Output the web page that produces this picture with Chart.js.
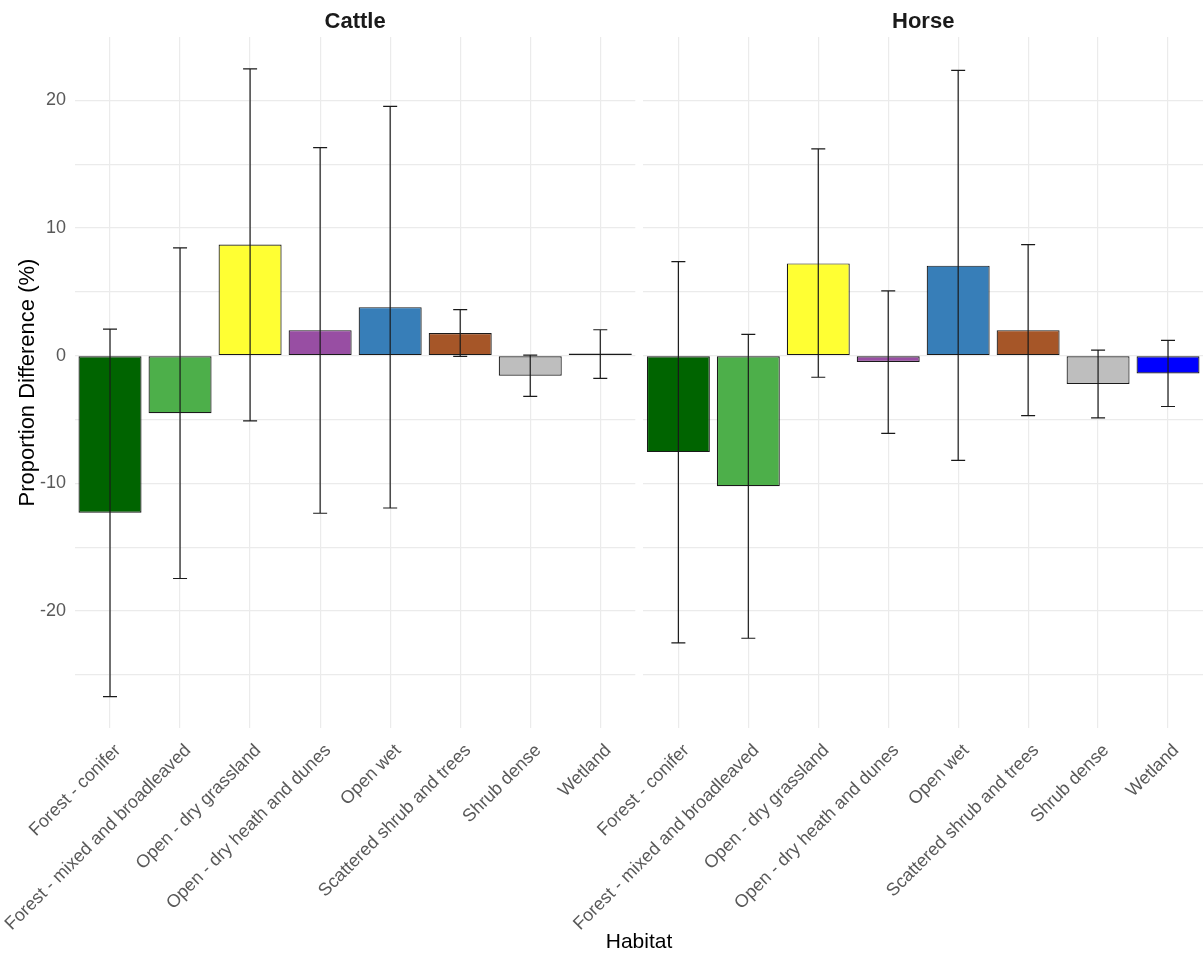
<!DOCTYPE html>
<html>
<head>
<meta charset="utf-8">
<script src="https://cdn.jsdelivr.net/npm/chart.js@4.4.1/dist/chart.umd.min.js"></script>
<style>
  body { margin: 0; background: #fff; }
  #wrap { position: relative; width: 1204px; height: 953px; }
  #wrap canvas { position: absolute; left: 0; top: 0; }
  #xtitle { position: absolute; left: 0; width: 1278px; top: 929px; text-align: center;
            font: 21px "Liberation Sans", Arial, sans-serif; color: #000; }
</style>
</head>
<body>
<div id="wrap">
  <canvas id="cattle" width="1204" height="953"></canvas>
  <canvas id="horse" width="1204" height="953"></canvas>
  <div id="xtitle">Habitat</div>
</div>
<script>
// Datos
const habitats = ['Forest - conifer', 'Forest - mixed and broadleaved', 'Open - dry grassland',
  'Open - dry heath and dunes', 'Open wet', 'Scattered shrub and trees', 'Shrub dense', 'Wetland'];
const habitatColors = ['#006400', '#4DAF4A', '#FFFF33', '#984EA3', '#377EB8', '#A65628', '#BEBEBE', '#0000FF'];

const cattleMean = [-12.3, -4.5, 8.7, 2.0, 3.8, 1.77, -1.57, 0.18];
const cattleLow  = [-26.7, -17.45, -5.1, -12.34, -11.93, -0.06, -3.18, -1.77];
const cattleHigh = [2.08, 8.44, 22.47, 16.3, 19.53, 3.6, 0.05, 2.03];

const horseMean = [-7.55, -10.22, 7.23, -0.5, 7.05, 2.0, -2.21, -1.4];
const horseLow  = [-22.5, -22.13, -1.69, -6.09, -8.2, -4.69, -4.87, -3.98];
const horseHigh = [7.37, 1.67, 16.2, 5.08, 22.34, 8.7, 0.44, 1.2];

const yTicks = [-25, -20, -15, -10, -5, 0, 5, 10, 15, 20];
const yMin = -29.16, yMax = 24.96;

const FONT = '"Liberation Sans", Arial, sans-serif';

// Plugin para dibujar las barras de error
const errorBars = {
  id: 'errorBars',
  afterDatasetsDraw(chart, args, opts) {
    const { ctx, scales: { x, y } } = chart;
    const step = x.getPixelForValue(1) - x.getPixelForValue(0);
    const half = step * 0.1;
    ctx.save();
    ctx.strokeStyle = '#1a1a1a';
    ctx.lineWidth = 1.2;
    opts.low.forEach((lo, i) => {
      const px = x.getPixelForValue(i);
      const yl = y.getPixelForValue(lo);
      const yh = y.getPixelForValue(opts.high[i]);
      ctx.beginPath();
      ctx.moveTo(px, yl); ctx.lineTo(px, yh);
      ctx.moveTo(px - half, yl); ctx.lineTo(px + half, yl);
      ctx.moveTo(px - half, yh); ctx.lineTo(px + half, yh);
      ctx.stroke();
    });
    ctx.restore();
  }
};

function makePanel(id, title, values, low, high, left, right, showY) {
  new Chart(document.getElementById(id), {
    type: 'bar',
    data: {
      labels: habitats,
      datasets: [{
        data: values,
        backgroundColor: habitatColors,
        borderColor: '#1a1a1a',
        borderWidth: 1.2,
        borderSkipped: false,
        categoryPercentage: 1,
        barPercentage: 0.9
      }]
    },
    plugins: [errorBars],
    options: {
      responsive: false,
      animation: false,
      layout: { padding: { left: left, right: right, top: 0, bottom: 0 } },
      plugins: {
        legend: { display: false },
        tooltip: { enabled: false },
        title: {
          display: true, text: title, fullSize: false, color: '#1a1a1a',
          font: { family: FONT, size: 22, weight: 'bold', lineHeight: 1.2 },
          padding: { top: 9, bottom: 1.6 }
        },
        errorBars: { low: low, high: high }
      },
      scales: {
        x: {
          grid: { color: '#ebebeb', lineWidth: 1.2, offset: false, drawTicks: false },
          border: { display: false },
          ticks: {
            color: '#595959', font: { family: FONT, size: 18 },
            minRotation: 45, maxRotation: 45, padding: 12, labelOffset: 8, autoSkip: false
          },
          afterFit: s => { s.height = 225; }
        },
        y: {
          min: yMin, max: yMax,
          grid: { color: '#ebebeb', lineWidth: 1.2, drawTicks: false },
          border: { display: false },
          afterBuildTicks: s => { s.ticks = yTicks.map(v => ({ value: v })); },
          ticks: {
            display: showY, color: '#595959', font: { family: FONT, size: 18 }, padding: 9,
            callback: v => (v % 10 === 0 ? String(v) : '')
          },
          title: {
            display: showY, text: 'Proportion Difference (%)', color: '#000',
            font: { family: FONT, size: 22 }, padding: { top: 15, bottom: 0 }
          },
          afterFit: s => { s.width = showY ? 75 : 0; }
        }
      }
    }
  });
}

makePanel('cattle', 'Cattle', cattleMean, cattleLow, cattleHigh, 0, 1204 - 635.3, true);
makePanel('horse', 'Horse', horseMean, horseLow, horseHigh, 643.4, 1, false);
</script>
</body>
</html>
